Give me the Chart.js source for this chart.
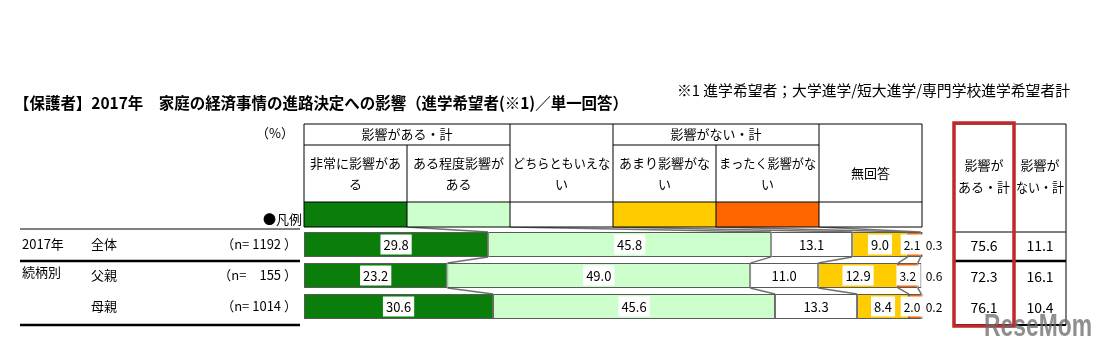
<!DOCTYPE html>
<html>
<head>
<meta charset="utf-8">
<script src="https://cdn.jsdelivr.net/npm/chart.js@4.4.0/dist/chart.umd.min.js"></script>
<style>
  html, body { margin: 0; padding: 0; background: #fff; }
  canvas { display: block; }
</style>
</head>
<body>
<canvas id="chart" width="1098" height="346"></canvas>
<script>
// rows
const categories = ['全体', '父親', '母親'];
const groupLabels = ['2017年', '続柄別', ''];
const nLabels = ['（n= 1192 ）', '（n=　155 ）', '（n= 1014 ）'];

// series (percent)
const seriesNames = ['非常に影響がある', 'ある程度影響がある', 'どちらともいえない', 'あまり影響がない', 'まったく影響がない', '無回答'];
const veryMuch = [29.8, 23.2, 30.6];
const somewhat = [45.8, 49.0, 45.6];
const neither = [13.1, 11.0, 13.3];
const notMuch = [9.0, 12.9, 8.4];
const notAtAll = [2.1, 3.2, 2.0];
const noAnswer = [0.3, 0.6, 0.2];

// summary columns
const netYes = [75.6, 72.3, 76.1];
const netNo = [11.1, 16.1, 10.4];

const seriesData = [veryMuch, somewhat, neither, notMuch, notAtAll, noAnswer];
const colors = ['#0A7D0A', '#CCFFCC', '#FFFFFF', '#FFCC00', '#FF6600', '#FFFFFF'];

// header cell texts (line broken like the original)
const headerLines = [['非常に影響があ', 'る'], ['ある程度影響が', 'ある'], ['どちらともいえな', 'い'], ['あまり影響がな', 'い'], ['まったく影響がな', 'い'], ['無回答']];

const FONT = '"Noto Sans CJK JP", "Noto Sans", sans-serif';

function txt(ctx, s, x, y, size, align, opts) {
  opts = opts || {};
  ctx.save();
  ctx.font = (opts.bold ? 'bold ' : '') + size + 'px ' + FONT;
  ctx.fillStyle = opts.color || '#000';
  ctx.textAlign = align || 'left';
  ctx.textBaseline = 'middle';
  if (opts.maxWidth) ctx.fillText(s, x, y, opts.maxWidth);
  else ctx.fillText(s, x, y);
  ctx.restore();
}

function line(ctx, x1, y1, x2, y2, w, color) {
  ctx.save();
  ctx.strokeStyle = color || '#000';
  ctx.lineWidth = w || 1;
  ctx.beginPath();
  ctx.moveTo(x1, y1);
  ctx.lineTo(x2, y2);
  ctx.stroke();
  ctx.restore();
}

const tablePlugin = {
  id: 'tablePlugin',
  beforeDatasetsDraw(chart) {
    const ctx = chart.ctx;
    const area = chart.chartArea;
    const metas = seriesData.map((_, i) => chart.getDatasetMeta(i));
    const colW = (area.right - area.left) / 6;
    const legendBottom = 227;

    // connectors: legend row -> first bar, and bar -> bar
    for (let k = 1; k < 6; k++) {
      const b0 = metas[k - 1].data[0];
      line(ctx, area.left + k * colW, legendBottom, b0.x, b0.y - b0.height / 2, 1.5, '#707070');
      for (let r = 0; r < categories.length - 1; r++) {
        const a = metas[k - 1].data[r];
        const b = metas[k - 1].data[r + 1];
        line(ctx, a.x, a.y + a.height / 2, b.x, b.y - b.height / 2, 1.5, '#707070');
      }
    }
  },
  afterDatasetsDraw(chart) {
    const ctx = chart.ctx;
    const area = chart.chartArea;
    const ys = chart.scales.y;
    const colW = (area.right - area.left) / 6;
    const cols = [0, 1, 2, 3, 4, 5, 6].map(k => area.left + k * colW);

    // title and note
    txt(ctx, '【保護者】2017年　家庭の経済事情の進路決定への影響（進学希望者(※1)／単一回答）', 14, 103, 16, 'left', { bold: true, maxWidth: 614 });
    txt(ctx, '※1 進学希望者；大学進学/短大進学/専門学校進学希望者計', 677, 90, 15, 'left', { maxWidth: 393 });
    txt(ctx, '（%）', 275, 133, 13, 'center');

    // header table
    const top = 124, r1 = 145, r2 = 202, r3 = 227;
    seriesData.forEach((_, i) => {
      ctx.fillStyle = colors[i];
      ctx.fillRect(cols[i], r2, colW, r3 - r2);
    });
    line(ctx, cols[0], top, cols[6], top);
    line(ctx, cols[0], r1, cols[2], r1);
    line(ctx, cols[3], r1, cols[5], r1);
    line(ctx, cols[0], r2, cols[6], r2);
    line(ctx, cols[0], r3, cols[6], r3);
    [0, 2, 3, 5, 6].forEach(k => line(ctx, cols[k], top, cols[k], r3));
    [1, 4].forEach(k => line(ctx, cols[k], r1, cols[k], r3));
    txt(ctx, '影響がある・計', (cols[0] + cols[2]) / 2, 134, 13, 'center');
    txt(ctx, '影響がない・計', (cols[3] + cols[5]) / 2, 134, 13, 'center');
    headerLines.forEach((ls, i) => {
      const cx = (cols[i] + cols[i + 1]) / 2;
      if (ls.length === 1) txt(ctx, ls[0], cx, 173, 13, 'center');
      else ls.forEach((s, j) => txt(ctx, s, cx, 163 + j * 21, 13, 'center', { maxWidth: colW - 6 }));
    });
    txt(ctx, '●凡例', 302, 219, 13, 'right');

    // left labels
    const rowY = categories.map((_, i) => ys.getPixelForValue(i));
    line(ctx, 20, 229, 300, 229, 1);
    line(ctx, 20, 261, 300, 261, 2.5);
    line(ctx, 20, 325, 300, 325, 2.5);
    categories.forEach((c, i) => {
      const y = rowY[i];
      if (groupLabels[i]) txt(ctx, groupLabels[i], 22, i === 1 ? 272 : y, 13, 'left');
      txt(ctx, c, 91, y, 13, 'left');
      txt(ctx, nLabels[i], 297, y, 13, 'right');
    });

    // value labels in white boxes
    ctx.save();
    seriesData.forEach((arr, d) => {
      const meta = chart.getDatasetMeta(d);
      ctx.font = (d < 4 ? 13 : 12) + 'px ' + FONT;
      arr.forEach((v, i) => {
        const el = meta.data[i];
        const s = v.toFixed(1);
        let x = (el.x + el.base) / 2;
        if (d === 4) x = Math.min(x, area.right - 10);
        if (d === 5) x = area.right + 12;
        const w = ctx.measureText(s).width + 6;
        if (d < 5) {
          ctx.fillStyle = '#fff';
          ctx.fillRect(x - w / 2, el.y - 10, w, 20);
        }
        ctx.fillStyle = '#000';
        ctx.textAlign = 'center';
        ctx.textBaseline = 'middle';
        ctx.fillText(s, x, el.y + 1);
      });
    });
    ctx.restore();

    // right summary table
    const rl = 954, rm = 1014, rr = 1066;
    line(ctx, rl, 124, rr, 124);
    line(ctx, rr, 124, rr, 325);
    line(ctx, rl, 232, rr, 232);
    line(ctx, rl, 261, rr, 261, 2.5);
    line(ctx, rl, 325, rr, 325, 2);
    txt(ctx, '影響が', (rl + rm) / 2, 165, 13, 'center');
    txt(ctx, 'ある・計', (rl + rm) / 2, 187, 13, 'center', { maxWidth: 54 });
    txt(ctx, '影響が', (rm + rr) / 2, 165, 13, 'center');
    txt(ctx, 'ない・計', (rm + rr) / 2, 187, 13, 'center', { maxWidth: 48 });
    categories.forEach((_, i) => {
      txt(ctx, netYes[i].toFixed(1), (rl + rm) / 2, rowY[i] + 1, 14, 'center');
      txt(ctx, netNo[i].toFixed(1), (rm + rr) / 2, rowY[i] + 1, 14, 'center');
    });
    ctx.save();
    ctx.strokeStyle = '#C0282D';
    ctx.lineWidth = 3.5;
    ctx.strokeRect(rl, 123, rm - rl, 203);
    ctx.restore();

    // watermark
    ctx.save();
    ctx.font = 'bold 32px "Liberation Sans", sans-serif';
    ctx.fillStyle = 'rgba(105,105,105,0.75)';
    ctx.textBaseline = 'alphabetic';
    ctx.fillText('ReseMom', 984, 336, 108);
    ctx.restore();
  }
};

new Chart(document.getElementById('chart').getContext('2d'), {
  type: 'bar',
  data: {
    labels: categories,
    datasets: seriesNames.map((name, i) => ({
      label: name,
      data: seriesData[i],
      backgroundColor: colors[i],
      borderColor: '#5a5a5a',
      borderWidth: 1,
      borderSkipped: false,
      barPercentage: 0.8,
      categoryPercentage: 1,
      clip: false
    }))
  },
  options: {
    indexAxis: 'y',
    responsive: false,
    animation: false,
    devicePixelRatio: 1,
    layout: { padding: { left: 304, right: 176, top: 229, bottom: 24 } },
    scales: {
      x: { stacked: true, min: 0, max: 100, display: false },
      y: { stacked: true, display: false }
    },
    plugins: {
      legend: { display: false },
      tooltip: { enabled: false }
    }
  },
  plugins: [tablePlugin]
});
</script>
</body>
</html>
